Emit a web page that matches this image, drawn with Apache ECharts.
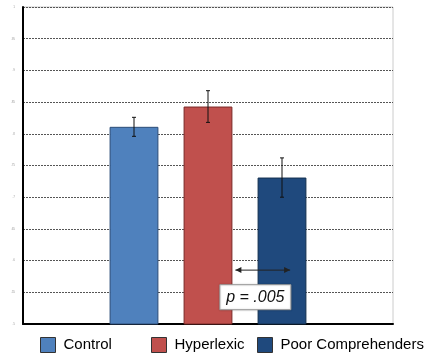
<!DOCTYPE html>
<html><head><meta charset="utf-8">
<script src="https://cdn.jsdelivr.net/npm/echarts@6/dist/echarts.min.js"></script>
<style>html,body{margin:0;padding:0;background:#fff}#c{width:428px;height:356px}</style>
</head><body><div id="c"></div>
<script>
var slots = ['', 'Control', 'Hyperlexic', 'Poor Comprehenders', ''];
var groups = ['Control', 'Hyperlexic', 'Poor Comprehenders'];
var means = [0.811, 0.843, 0.731];
var errors = [0.015, 0.025, 0.031];
var colors = ['#4F81BD', '#C0504D', '#1F497D'];
var borders = ['#2c4d78', '#7a2a28', '#14304f'];
var yTicks = ['.5', '.55', '.6', '.65', '.7', '.75', '.8', '.85', '.9', '.95', '1'];
var pLabel = 'p = .005';

var chart = echarts.init(document.getElementById('c'));
var series = groups.map(function (g, i) {
  var d = slots.map(function (s) { return s === g ? means[i] : null; });
  return {
    name: g, type: 'bar', stack: 'all', data: d, barWidth: '66%',
    itemStyle: { color: colors[i], borderColor: borders[i], borderWidth: 1 }
  };
});
var errData = groups.map(function (g, i) {
  return [slots.indexOf(g), means[i] - errors[i], means[i] + errors[i]];
});
series.push({
  type: 'custom', data: errData, z: 10,
  renderItem: function (params, api) {
    var x = api.coord([api.value(0), api.value(1)])[0];
    var lo = api.coord([api.value(0), api.value(1)])[1];
    var hi = api.coord([api.value(0), api.value(2)])[1];
    var st = { stroke: '#111', lineWidth: 1 };
    return { type: 'group', children: [
      { type: 'line', shape: { x1: x, y1: lo, x2: x, y2: hi }, style: st },
      { type: 'line', shape: { x1: x - 2, y1: lo, x2: x + 2, y2: lo }, style: st },
      { type: 'line', shape: { x1: x - 2, y1: hi, x2: x + 2, y2: hi }, style: st }
    ]};
  }
});

var legends = groups.map(function (g, i) {
  return {
    data: [g], left: [40, 151, 257][i], top: 337, itemWidth: 15, itemHeight: 15,
    itemGap: 0, padding: 0, icon: 'rect',
    itemStyle: { borderColor: '#333', borderWidth: 1 },
    textStyle: { fontFamily: 'Liberation Sans, Arial', fontSize: 15, color: '#000', padding: [0, 0, 0, 3] }
  };
});

chart.setOption({
  animation: false,
  grid: { left: 23, right: 35, top: 7, bottom: 32, containLabel: false, outerBoundsMode: 'none',
    show: true, borderColor: '#ccc', borderWidth: 1 },
  legend: legends,
  xAxis: {
    type: 'category', data: slots,
    axisLine: { lineStyle: { color: '#000', width: 2 } },
    axisTick: { show: false }, axisLabel: { show: false }
  },
  yAxis: {
    type: 'value', min: 0.5, max: 1, interval: 0.05,
    name: 'Accuracy', nameLocation: 'middle', nameGap: 13,
    nameTextStyle: { fontSize: 3, color: '#999' },
    axisLine: { show: true, lineStyle: { color: '#000', width: 2 } },
    axisTick: { show: false },
    axisLabel: { fontSize: 3, color: '#999', margin: 8,
      formatter: function (v) { var i = Math.round((v - 0.5) / 0.05); return yTicks[i]; } },
    splitLine: { lineStyle: { color: '#555', type: [2, 1], width: 1 } }
  },
  series: series
});

// annotation: double arrow and p-value box
var c2 = chart.convertToPixel({ xAxisIndex: 0 }, 2);
var c3 = chart.convertToPixel({ xAxisIndex: 0 }, 3);
var slotW = c3 - c2;
var ax1 = c2 + slotW * 0.37, ax2 = c3 + slotW * 0.11;
var ay = chart.convertToPixel({ yAxisIndex: 0 }, 0.585);
var bx = c2 + slotW * 0.16, bw = slotW * 0.96;
var by = chart.convertToPixel({ yAxisIndex: 0 }, 0.562);
var bh = 25;
chart.setOption({
  graphic: [
    { type: 'line', shape: { x1: ax1, y1: ay, x2: ax2, y2: ay }, style: { stroke: '#222', lineWidth: 1 }, z: 20 },
    { type: 'polygon', shape: { points: [[ax1, ay], [ax1 + 6, ay - 3], [ax1 + 6, ay + 3]] }, style: { fill: '#222' }, z: 20 },
    { type: 'polygon', shape: { points: [[ax2, ay], [ax2 - 6, ay - 3], [ax2 - 6, ay + 3]] }, style: { fill: '#222' }, z: 20 },
    { type: 'rect', shape: { x: bx, y: by, width: bw, height: bh }, style: { fill: '#fff', stroke: '#999', lineWidth: 1, shadowColor: 'rgba(0,0,0,0.2)', shadowBlur: 2 }, z: 20 },
    { type: 'text', x: bx + bw / 2, y: by + bh / 2, style: { text: pLabel, fontFamily: 'Liberation Sans, Arial', fontStyle: 'italic', fontSize: 16, fill: '#111', align: 'center', verticalAlign: 'middle' }, z: 21 }
  ]
});
</script></body></html>
